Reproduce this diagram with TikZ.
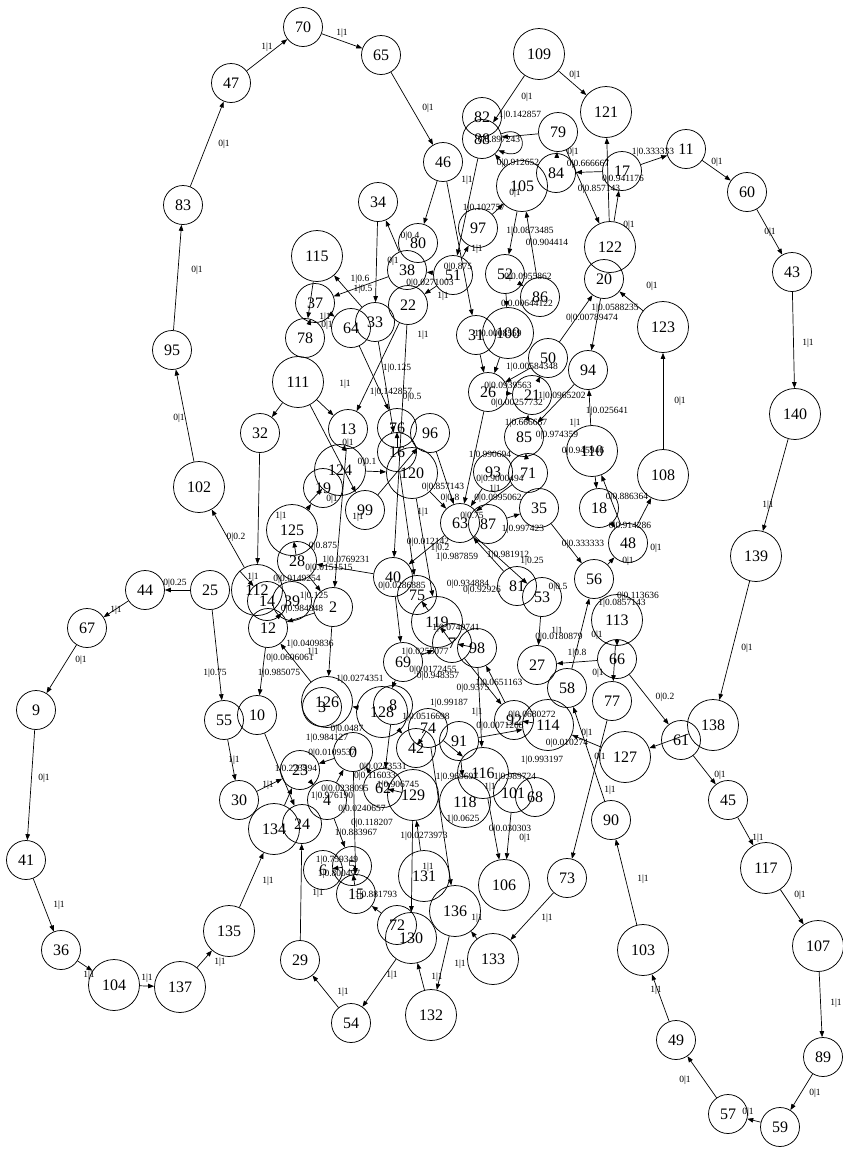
\documentclass[tikz,border=0pt]{standalone}
\usepackage{fontspec}
\setmainfont{Liberation Serif}
\usetikzlibrary{arrows.meta}
\begin{document}
\begin{tikzpicture}[x=1pt,y=-1pt,
  v/.style={draw,circle,minimum size=39pt,inner sep=0pt,font=\fontsize{16}{16}\selectfont,line width=0.75pt},
  vb/.style={v,minimum size=51pt},
  e/.style={-{Triangle[length=6pt,width=4.5pt]},line width=0.7pt},
  lab/.style={font=\fontsize{9.5}{10}\selectfont,inner sep=0pt}]
\useasboundingbox (0,0) rectangle (843,1152);
% small nodes
\foreach \n/\x/\y in {70/303/27, 65/381/55, 47/231/83, 46/443/162, 83/183/205, 11/686/149, 60/747/192, 43/792/272,
  95/172/350, 34/378/202, 80/418/243, 82/482/117, 88/482/139, 79/558/132, 84/556/173, 17/622/171, 97/478/228,
  20/604/279, 52/505/274, 86/540/297, 38/407/270, 51/453/275, 22/408/305, 37/315/303, 64/351/328, 33/375/322,
  78/305/338, 31/476/335, 50/548/358, 94/588/370, 26/488/392, 21/532/395, 32/260/433, 13/348/429, 76/397/428,
  96/430/433, 85/524/437, 16/397/452, 19/323/488, 93/493/472, 71/528/473, 35/539/508, 18/599/508, 48/628/543,
  99/365/510, 63/460/523, 87/488/524, 28/297/561, 40/393/577, 75/417/595, 81/517/586, 53/542/597, 56/594/579,
  14/267/601, 39/292/601, 2/333/607, 12/268/628, 44/145/590, 25/210/590, 67/87/628, 9/36/710, 55/224/720,
  10/257/715, 7/452/643, 98/477/648, 27/537/665, 66/617/659, 69/403/662, 58/567/688, 77/612/701, 3/322/707,
  8/393/705, 74/428/728, 42/416/748, 91/459/741, 92/514/720, 0/353/752, 23/300/770, 4/327/800, 62/383/788,
  101/513/793, 68/535/797, 24/302/824, 30/239/800, 41/26/860, 36/61/950, 29/300/960, 54/351/1023, 6/323/870,
  5/352/866, 15/356/894, 72/397/925, 73/567/878, 90/611/820, 61/681/740, 45/728/800, 49/676/1040, 57/728/1114,
  59/780/1127, 89/823/1057}
  \node[v] (n\n) at (\x,\y) {\n};
% large nodes
\foreach \n/\x/\y in {109/539/54, 121/606/112, 105/522/186, 122/610/247, 115/317/256, 100/508/333, 123/663/327,
  111/298/382, 110/592/451, 108/663/475, 124/340/470, 120/412/473, 102/199/487, 125/292/530, 112/257/590,
  119/437/622, 113/617/620, 126/327/702, 128/382/712, 114/548/725, 116/483/773, 118/465/802, 129/413/795,
  134/274/829, 131/424/876, 136/455/911, 130/411/938, 132/431/1015, 133/493/959, 106/504/885, 135/229/931,
  137/180/987, 104/114/985, 103/643/950, 107/818/946, 117/766/868, 138/713/725, 127/625/757, 139/756/556,
  140/795/414}
  \node[vb] (n\n) at (\x,\y) {\n};
% edges
\foreach \a/\b in {47/70, 70/65, 65/46, 83/47, 95/83, 102/95, 112/102, 25/44, 44/67, 67/9, 9/41, 41/36, 36/104,
  104/137, 137/135, 135/134, 25/55, 55/30, 30/23, 29/24, 54/29, 130/54, 132/130, 136/132, 133/136, 73/133,
  103/90, 49/103, 57/49, 59/57, 89/59, 107/89, 117/107, 45/117, 61/45, 66/61, 138/127, 139/138, 140/139, 43/140,
  60/43, 11/60, 17/11, 109/121, 109/88, 108/123, 123/20, 122/121, 48/108,
  79/88, 105/88, 17/84, 84/79, 79/122, 122/17, 97/105, 105/52, 86/105, 46/80, 88/51, 46/31, 52/86, 52/100,
  38/34, 34/33, 38/37, 33/115, 51/38, 51/22, 22/13, 51/97, 31/26, 100/26, 50/20, 20/94, 50/26, 21/50, 26/21,
  110/94, 94/85, 85/21, 110/18, 48/110, 18/48, 56/48, 35/56, 87/35, 93/63, 71/63, 96/63, 120/63, 26/63, 85/71,
  37/78, 37/64, 115/78, 111/32, 111/13, 111/99, 64/76, 33/16, 22/40, 13/124, 124/120, 19/124, 125/19, 99/96,
  13/2, 76/16, 16/75, 120/119, 63/53, 81/63, 63/40, 40/28, 125/28, 112/14, 39/12, 2/12, 12/10, 126/12, 28/2,
  32/112, 75/119, 119/7, 69/7, 7/98, 98/116, 7/92, 92/98, 53/27, 66/27, 58/56, 66/113, 113/77, 92/114, 91/114,
  91/118, 74/116, 116/106, 101/106, 127/114, 90/58, 77/73, 128/126, 62/129, 131/129, 0/23, 4/0, 62/0, 10/24,
  134/23, 4/5, 6/5, 5/15, 72/15, 0/15, 74/136, 129/130, 128/42, 8/62, 2/126, 40/69, 69/128, 42/74, 23/4}
  \draw[e] (n\a) -- (n\b);
\draw[e] (n88.15) .. controls (528,122) and (530,162) .. (n88.-35);
% edge labels
\foreach \x/\y/\t [count=\i] in {
  267/47/1|1, 342/33/1|1, 428/108/0|1, 224/144/0|1, 197/270/0|1, 179/418/0|1, 236/537/0|0.2, 175/583/0|0.25,
  116/610/1|1, 81/660/0|1, 44/778/0|1, 59/905/1|1, 89/975/1|1, 147/978/1|1, 220/962/1|1, 268/881/1|1,
  215/673/1|0.75, 234/760/1|1, 268/785/1|1, 343/992/1|1, 392/975/1|1, 437/977/1|1, 460/964/1|1, 477/918/1|1,
  547/918/1|1, 428/867/1|1, 318/893/1|1, 643/879/1|1, 656/990/1|1, 685/1080/0|1, 748/1112/0|1, 815/1093/0|1,
  836/1003/1|1, 800/895/0|1, 758/838/1|1, 720/775/0|1, 665/697/0|0.2, 747/648/0|1, 768/505/1|1, 808/343/1|1,
  770/232/0|1, 717/162/0|1, 575/75/0|1, 527/97/0|1, 680/401/0|1, 652/286/0|1, 610/790/1|1, 600/757/0|1,
  520/115/1|0.142857, 499/140/0|0.897243, 518/163/0|0.912652, 573/152/0|1, 588/164/0|0.666667,
  653/152/1|0.333333, 623/179/0|0.941176, 599/189/0|0.857143, 467/180/1|1, 515/193/0|1, 484/208/1|0.102757,
  477/249/1|1, 530/231/1|0.0873485, 547/243/0|0.904414, 629/225/0|1, 458/267/0|0.875, 528/277/0|0.0955862,
  410/236/0|0.4, 393/261/0|1, 360/279/1|0.6, 363/289/1|0.5, 430/283/0|0.0271003, 443/296/1|1, 423/335/1|1,
  325/317/1|1, 327/325/0|1, 498/334/1|0.0008559, 527/304/0|0.00644122, 615/308/1|0.0588235,
  592/318/0|0.00789474, 532/367/1|0.00584348, 508/386/0|0.0939563, 517/403/0|0.00257732,
  562/396/1|0.0965202, 607/411/1|0.025641, 526/423/1|0.666667, 575/423/1|1, 557/435/0|0.974359,
  583/451/0|0.945946, 345/384/1|1, 391/392/1|0.142857, 412/397/0|0.5, 397/368/1|0.125, 348/443/0|1,
  367/462/0|0.1, 332/499/0|1, 281/516/1|1, 358/517/1|1, 443/487/0|0.857143, 450/498/0|0.8, 423/512/1|1,
  428/542/0|0.012142, 440/548/1|0.2, 457/557/1|0.987859, 323/546/0|0.875, 346/560/1|0.0769231,
  329/568/0|0.0151515, 490/455/1|0.990694, 500/479/0|0.9000494, 495/489/1|1, 498/498/0|0.0995062,
  472/516/0|0.75, 523/529/1|0.997423, 508/555/1|0.981912, 532/561/1|0.25, 468/584/0|0.934884,
  482/590/0|0.92926, 558/587/0|0.5, 583/544/0|0.333333, 627/497/0|0.886364, 630/526/0|0.914286,
  656/548/0|1, 628/561/0|1, 622/603/1|0.0857143, 638/596/0|0.113636, 557/631/1|1, 559/637/0|0.0180879,
  597/635/0|1, 402/586/0|0.0286885, 297/579/0|0.0149254, 253/577/1|1, 314/596/1|0.125, 302/609/0|0.984848,
  310/644/1|0.0409836, 313/652/1|1, 290/658/0|0.0606061, 279/673/1|0.985075, 360/679/1|0.0274351,
  456/628/1|0.0740741, 425/652/1|0.0255077, 433/670/0|0.0172455, 438/676/0|0.948357, 473/688/0|0.9375,
  499/683/1|0.0651163, 449/703/1|0.99187, 477/712/1|1, 426/717/1|0.0516698, 532/715/0|0.0680272,
  500/726/0|0.0071208, 567/743/0|0.010274, 587/733/0|1, 542/760/1|0.993197, 457/777/1|0.969697,
  515/777/1|0.989724, 490/787/1|1, 463/819/1|0.0625, 510/829/0|0.030303, 525/838/0|1, 577/653/1|0.8,
  598/673/0|1, 424/836/1|0.0273973, 327/738/1|0.984127, 347/729/0|0.0487, 332/753/0|0.0109537,
  296/769/1|0.223594, 345/789/0|0.0238095, 332/796/1|0.976190, 375/776/0|0.116033, 383/767/0|0.0243531,
  362/809/0|0.0240657, 372/823/0|0.118207, 356/833/1|0.883967, 398/785/1|0.906745, 337/860/1|0.759349,
  339/874/1|0.800497, 376/895/1|0.881793}
  \node[lab] (l\i) at (\x,\y) {\t};
\end{tikzpicture}
\end{document}
